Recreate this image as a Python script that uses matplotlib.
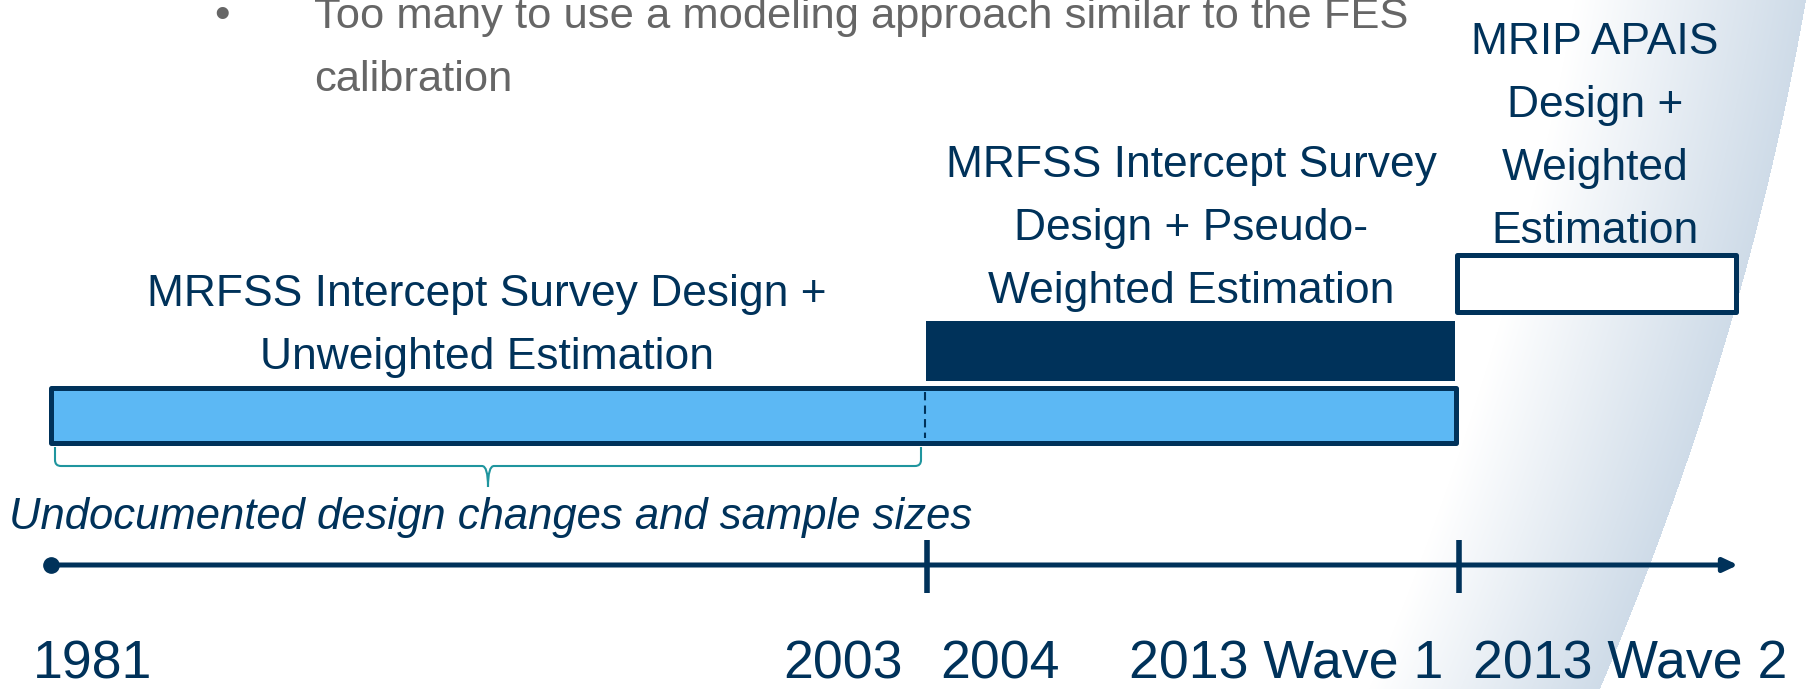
import numpy as np
import matplotlib
matplotlib.use('Agg')
import matplotlib.pyplot as plt
from matplotlib import font_manager
from matplotlib.path import Path
from matplotlib.patches import PathPatch

NAVY = '#00325a'
SKY = '#5cb8f4'
GREY = '#666666'
TEAL = '#1f959e'
SHADE = np.array([0.81, 0.86, 0.91])

# schematic timeline: x in timeline units (1981 at 0), y in rows measured downward
milestone_labels = ['1981', '2003', '2004', '2013 Wave 1', '2013 Wave 2']
milestone_label_x = [0.42, 7.92, 9.49, 12.35, 15.79]
tick_x = [8.76, 14.08]
timeline_start = 0.0
timeline_end = 16.87

bar_start = [0.0, 8.75, 14.06]
bar_end = [14.05, 14.04, 16.85]
bar_row = [4.15, 3.51, 2.83]
bar_height = [0.55, 0.60, 0.57]
bar_fill = [SKY, NAVY, 'white']
bar_edge_width = [3.6, 0.0, 3.6]

period_labels = ['MRFSS Intercept Survey Design +\nUnweighted Estimation',
                 'MRFSS Intercept Survey\nDesign + Pseudo-\nWeighted Estimation',
                 'MRIP APAIS\nDesign +\nWeighted\nEstimation']
period_label_x = [4.36, 11.40, 15.44]
period_label_base = [3.69, 3.03, 2.43]

split_x = 8.74
brace_span = (0.04, 8.70)
brace_note = 'Undocumented design changes and sample sizes'

bullet_lines = ['Too many to use a modeling approach similar to the FES',
                'calibration']

LINE_STEP = 0.63
AXIS_Y = 5.65

available = {f.name for f in font_manager.fontManager.ttflist}
if 'Liberation Sans Narrow' in available:
    FONT, SCALE = 'Liberation Sans Narrow', 1.0
else:
    FONT, SCALE = 'Liberation Sans', 0.84
plt.rcParams['font.family'] = [FONT, 'DejaVu Sans']

fig = plt.figure(figsize=(18.08, 6.89), dpi=100)
ax = fig.add_axes([0, 0, 1, 1])
xlim = (-0.51, 17.57)
ylim = (6.89, 0.0)

# curved shaded band on the right
W, H = 1808, 689
px = np.arange(W) + 0.5
py = np.arange(H) + 0.5
gx, gy = np.meshgrid(px, py)
edge = 1806 - 0.1733 * gy - 1.824e-4 * gy ** 2
dist = edge - gx
t = np.where(dist >= 0, np.clip(1 - dist / 230.0, 0, 1), 0.0)
img = np.ones((H, W, 3)) * (1 - t[..., None]) + SHADE * t[..., None]
ax.imshow(img, extent=(xlim[0], xlim[1], ylim[0], ylim[1]), origin='upper',
          aspect='auto', interpolation='bilinear', zorder=0)

# bars
for s, e, r, h, c, lw in zip(bar_start, bar_end, bar_row, bar_height,
                             bar_fill, bar_edge_width):
    bars = ax.barh(r, e - s, left=s, height=h, color=c,
                   edgecolor=NAVY if lw > 0 else c, linewidth=lw, zorder=2)
    for b in bars:
        b.set_joinstyle('round')

ax.vlines(split_x, bar_row[0] - 0.23, bar_row[0] + 0.23, colors=NAVY,
          linestyles=(0, (4, 2.5)), linewidth=1.5, zorder=3)

# period labels
for lab, x, base in zip(period_labels, period_label_x, period_label_base):
    lines = lab.split('\n')
    for i, ln in enumerate(lines):
        y = base - (len(lines) - 1 - i) * LINE_STEP
        ax.text(x, y, ln, ha='center', va='baseline', color=NAVY,
                fontsize=38 * SCALE, zorder=4)

# brace under the first period
x0, x1 = brace_span
xm = (x0 + x1) / 2
top, mid, tip, r = 4.47, 4.66, 4.87, 0.06
verts = [(x0, top), (x0, mid - r), (x0, mid), (x0 + r, mid),
         (xm - r, mid), (xm, mid), (xm, tip),
         (xm, mid), (xm + r, mid),
         (x1 - r, mid), (x1, mid), (x1, mid - r), (x1, top)]
codes = [Path.MOVETO, Path.LINETO, Path.CURVE3, Path.CURVE3,
         Path.LINETO, Path.CURVE3, Path.CURVE3,
         Path.CURVE3, Path.CURVE3,
         Path.LINETO, Path.CURVE3, Path.CURVE3, Path.LINETO]
ax.add_patch(PathPatch(Path(verts, codes), fill=False, edgecolor=TEAL,
                       linewidth=1.5, zorder=3))
ax.text(-0.42, 5.29, brace_note, ha='left', va='baseline', color=NAVY,
        fontsize=38 * SCALE * 0.983, style='italic', zorder=4)

# timeline axis
ax.annotate('', xy=(timeline_end, AXIS_Y), xytext=(timeline_start, AXIS_Y),
            arrowprops=dict(arrowstyle='-|>,head_length=0.85,head_width=0.4',
                            mutation_scale=10, lw=3.6, color=NAVY,
                            shrinkA=0, shrinkB=0), zorder=3)
ax.plot([timeline_start], [AXIS_Y], 'o', ms=11, color=NAVY, zorder=4)
ax.vlines(tick_x, 5.40, 5.93, colors=NAVY, linewidth=4, zorder=3)
for lab, x in zip(milestone_labels, milestone_label_x):
    ax.text(x, 6.78, lab, ha='center', va='baseline', color=NAVY,
            fontsize=46 * SCALE, zorder=4)

# grey bullet text from the slide above
ax.text(1.71, 0.28, '\u2022', ha='center', va='baseline', color=GREY,
        fontsize=38 * SCALE, zorder=4)
for i, ln in enumerate(bullet_lines):
    ax.text(2.63, 0.28 + i * LINE_STEP, ln, ha='left', va='baseline',
            color=GREY, fontsize=38 * SCALE * 0.98, zorder=4)

ax.set_xlim(*xlim)
ax.set_ylim(*ylim)
ax.axis('off')
fig.savefig('out.png', dpi=100)
